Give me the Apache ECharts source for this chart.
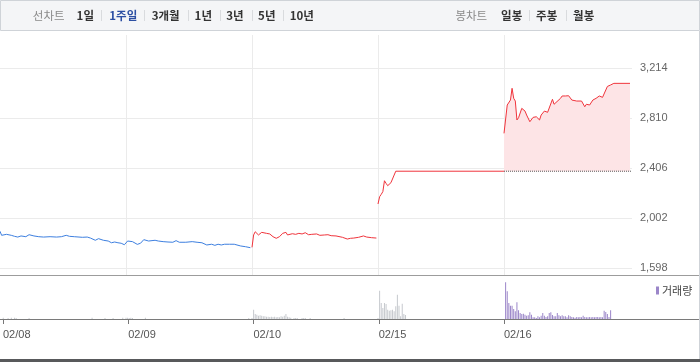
<!DOCTYPE html>
<html><head><meta charset="utf-8">
<script src="https://cdn.jsdelivr.net/npm/echarts@6.0.0/dist/echarts.min.js"></script>
<style>html,body{margin:0;padding:0;background:#fff}#c{width:700px;height:362px}</style>
</head><body><div id="c"></div>
<script>
// ---- data ----
const dates = ['02/08', '02/09', '02/10', '02/15', '02/16'];
const priceTicks = [1598, 2002, 2406, 2810, 3214];
const sessionMinutes = 390;   // 09:00 - 15:30
const barMinutes = 5;         // 5-minute volume bars

// price: [minutes after 09:00, price]
const price0208 = [[0,1895],[5,1862],[10,1875],[20,1870],[35,1862],[45,1854],[55,1848],[65,1857],[70,1843],[80,1851],[90,1867],[105,1857],[120,1851],[135,1848],[155,1851],[175,1848],[190,1851],[205,1862],[215,1854],[230,1851],[255,1846],[270,1848],[280,1840],[295,1822],[305,1835],[320,1822],[335,1816],[345,1802],[355,1808],[365,1802],[375,1798],[385,1786]];
const price0209 = [[5,1816],[20,1811],[35,1789],[45,1798],[55,1827],[70,1816],[75,1806],[90,1822],[100,1816],[115,1811],[130,1808],[145,1806],[155,1819],[165,1806],[185,1806],[205,1811],[220,1806],[235,1802],[250,1784],[265,1790],[275,1781],[285,1790],[295,1784],[305,1790],[320,1790],[335,1790],[355,1776],[370,1770],[385,1762]];
const price0210 = [[0,1765],[5,1865],[10,1891],[20,1865],[30,1886],[35,1873],[45,1878],[55,1873],[65,1851],[75,1838],[85,1851],[95,1878],[105,1886],[110,1865],[125,1875],[135,1870],[145,1878],[155,1873],[165,1883],[175,1867],[185,1870],[200,1873],[210,1862],[225,1865],[235,1867],[245,1859],[260,1857],[280,1846],[295,1832],[305,1838],[315,1840],[330,1846],[345,1857],[355,1848],[370,1843],[385,1840]];
const price0215 = [[0,2115],[5,2174],[10,2193],[15,2215],[20,2303],[25,2282],[30,2263],[40,2287],[45,2290],[50,2349],[55,2380],[390,2380]];
const price0216 = [[0,2686],[10,2915],[20,2955],[25,3050],[30,2969],[35,2947],[40,2794],[45,2812],[55,2888],[65,2866],[70,2834],[80,2780],[90,2815],[100,2820],[110,2794],[115,2834],[125,2866],[135,2856],[140,2863],[150,2961],[155,2921],[160,2929],[175,2969],[180,2988],[190,2988],[200,2990],[210,2955],[225,2947],[240,2947],[250,2901],[255,2921],[265,2915],[275,2955],[285,2969],[295,2988],[305,2977],[310,2983],[320,3065],[330,3077],[340,3090],[390,3090]];

// volume (만주): sparse days as [minutes, volume]; dense days as consecutive 5-min bars
const vol0208 = [[10,1.3],[25,1],[35,1.3],[45,1.3],[50,1],[90,1],[285,1.3],[325,1],[350,1],[380,1.3]];
const vol0209 = [[0,1.3],[5,1.3],[10,1],[15,1.3],[20,1],[60,1.3],[380,1]];
const vol0210 = [[0,1],[5,9.3],[10,5],[15,4.3],[20,3.3],[25,3.7],[30,3.3],[35,2.7],[40,2.7],[45,2.3],[50,2.3],[55,2],[60,2.3],[65,2],[70,2.3],[75,1.7],[80,2],[85,1.7],[90,2.7],[95,2.3],[100,3.3],[105,5],[110,2.3],[115,1.7],[120,1.3],[130,1],[135,1],[140,1],[155,1],[160,1],[165,1],[180,1],[285,1]];
const vol0215Start = 0;
const vol0215 = [1,28.3,16,11,16,15,9.3,8.3,8.7,9.3,7.7,12.7,24.3,13.3,2.7,15.3,5,4];
const vol0216Start = 5;
const vol0216 = [36.7,27.7,16,13.3,13.3,10,7.7,16.7,8.7,6,5,5.3,4.3,3.3,3.7,6.7,4.3,1.7,1.7,1,2.7,1.7,3.3,6,3.3,2,2.7,6,6.7,4,2.7,2.7,6,3.7,2.7,3.7,2.7,2.7,1.7,3.7,2.7,2,1.7,1.3,2,1.7,2,1.7,3.3,2,1.7,1.7,2,1.7,2,1.7,2,2,1.7,2,1.7,8.3,7,5,2,8.7];

// ---- build ----
const xMax = 5 + 2 / 126;
const toX = (day, m) => day + m / sessionMinutes;
const pts = (day, arr) => arr.map(p => [toX(day, p[0]), p[1]]);
const dense = (start, arr) => arr.map((v, i) => [start + i * barMinutes, v]);
const prevClose = price0215[price0215.length - 1][1];

const GRAY = '#c6c9ce', PURPLE = '#9b86c9', BLUE = '#3d7fdf', RED = '#f0343c';
const volDays = [vol0208, vol0209, vol0210, dense(vol0215Start, vol0215), dense(vol0216Start, vol0216)];
const volData = [];
volDays.forEach((arr, d) => arr.forEach(p => volData.push({
  value: [toX(d, p[0]), p[1]],
  itemStyle: { color: d === 4 ? PURPLE : GRAY }
})));

const NUMF = "'Liberation Sans', Arial, sans-serif";
const KRF = "'Noto Sans CJK KR', sans-serif";

// toolbar
const toolbar = [{ type: 'rect', shape: { x: 0.5, y: 0.5, width: 699, height: 30 }, style: { fill: '#f4f5f7', stroke: '#cfd3d8', lineWidth: 1 }, silent: true }];
const tbItems = [
  ['선차트', 48.7, '#8a8a8a', 'normal'], ['1일', 85.3, '#333', 'bold'], ['1주일', 123.3, '#2c4fa3', 'bold'],
  ['3개월', 165.7, '#333', 'bold'], ['1년', 203.3, '#333', 'bold'], ['3년', 235, '#333', 'bold'],
  ['5년', 266.8, '#333', 'bold'], ['10년', 301.7, '#333', 'bold'],
  ['봉차트', 471.3, '#8a8a8a', 'normal'], ['일봉', 511.7, '#333', 'bold'], ['주봉', 546.7, '#333', 'bold'], ['월봉', 583.7, '#333', 'bold']
];
tbItems.forEach(t => toolbar.push({
  type: 'text', x: t[1], y: 15.5, silent: true,
  style: { text: t[0], fill: t[2], font: t[3] + ' 11.5px ' + KRF, align: 'center', verticalAlign: 'middle', textAlign: 'center', textVerticalAlign: 'middle' }
}));
[101, 144.3, 187.7, 220, 251.7, 283.3, 529.3, 565.7].forEach(x => toolbar.push({
  type: 'line', silent: true, shape: { x1: Math.round(x) + 0.5, y1: 10, x2: Math.round(x) + 0.5, y2: 21 }, style: { stroke: '#d9dbde', lineWidth: 1 }
}));

const graphics = toolbar.concat([
  { type: 'line', silent: true, z: 100, shape: { x1: 0, y1: 275.5, x2: 700, y2: 275.5 }, style: { stroke: '#9c9c9c', lineWidth: 1 } },
  { type: 'line', silent: true, z: 100, shape: { x1: 0, y1: 319.5, x2: 700, y2: 319.5 }, style: { stroke: '#7a7a7a', lineWidth: 1 } },
  { type: 'line', silent: true, z: 100, shape: { x1: 699.5, y1: 31, x2: 699.5, y2: 360 }, style: { stroke: '#cfd3d8', lineWidth: 1 } },
  { type: 'rect', silent: true, z: 100, shape: { x: 0, y: 359, width: 700, height: 3 }, style: { fill: '#58595b' } }
]);

const lineBase = { type: 'line', xAxisIndex: 0, yAxisIndex: 0, symbol: 'none', silent: true, smooth: false };

const option = {
  animation: false,
  backgroundColor: '#fff',
  grid: [
    { left: 0, top: 68, width: 632, height: 200 },
    { left: 0, top: 276, width: 632, height: 43 },
    { left: 126, top: 35, width: 378, height: 240 },
    { left: 0, top: 276, width: 504, height: 43 }
  ],
  xAxis: [
    { gridIndex: 0, type: 'value', min: 0, max: xMax, show: false },
    { gridIndex: 1, type: 'value', min: 0, max: xMax, show: false },
    { gridIndex: 2, type: 'value', min: 1, max: 4, interval: 1, axisLine: { show: false }, axisTick: { show: false }, axisLabel: { show: false }, splitLine: { show: true, lineStyle: { color: '#ebebeb', width: 1 } } },
    { gridIndex: 3, type: 'value', min: 0, max: dates.length - 1, interval: 1, position: 'bottom',
      axisLine: { show: false }, splitLine: { show: false },
      axisTick: { show: true, length: 5, lineStyle: { color: '#777', width: 1 } },
      axisLabel: { show: true, margin: 10, align: 'left', color: '#555', fontSize: 11, fontFamily: NUMF, formatter: v => dates[Math.round(v)] || '' } }
  ],
  yAxis: [
    { gridIndex: 0, type: 'value', position: 'right', min: priceTicks[0], max: priceTicks[priceTicks.length - 1], interval: priceTicks[1] - priceTicks[0],
      axisLine: { show: false }, axisTick: { show: false },
      splitLine: { show: true, lineStyle: { color: '#ebebeb', width: 1 } },
      axisLabel: { margin: 8, color: '#666', fontSize: 11, fontFamily: NUMF, formatter: v => v.toLocaleString('en-US') } },
    { gridIndex: 1, type: 'value', min: 0, max: 43, show: false },
    { gridIndex: 2, type: 'value', min: 0, max: 1, show: false },
    { gridIndex: 3, type: 'value', min: 0, max: 1, show: false }
  ],
  legend: {
    left: 651, top: 280, itemWidth: 3, itemHeight: 8, selectedMode: false, icon: 'rect',
    textStyle: { fontSize: 11, color: '#444', fontFamily: KRF, padding: [0, 0, 0, -2] },
    data: [{ name: '거래량', icon: 'rect', itemStyle: { color: PURPLE } }]
  },
  graphic: { elements: graphics },
  series: [
    Object.assign({}, lineBase, { name: 'p1', data: pts(0, price0208).concat(pts(1, price0209)), lineStyle: { color: BLUE, width: 1 }, itemStyle: { color: BLUE } }),
    Object.assign({}, lineBase, { name: 'p2', data: pts(2, price0210), lineStyle: { color: RED, width: 1 }, itemStyle: { color: RED } }),
    Object.assign({}, lineBase, { name: 'p3', data: pts(3, price0215), lineStyle: { color: RED, width: 1 }, itemStyle: { color: RED } }),
    Object.assign({}, lineBase, { name: 'p4', data: pts(4, price0216), lineStyle: { color: RED, width: 1 }, itemStyle: { color: RED }, z: 3,
      areaStyle: { color: '#fde4e6', opacity: 1, origin: prevClose } }),
    Object.assign({}, lineBase, { name: 'prev', data: [[4, prevClose], [xMax, prevClose]], z: 4, lineStyle: { color: '#555', width: 1, type: 'dotted' }, itemStyle: { color: '#555' } }),
    { name: '거래량', type: 'bar', xAxisIndex: 1, yAxisIndex: 1, barWidth: 1, silent: true, data: volData, itemStyle: { color: PURPLE } }
  ]
};
const chart = echarts.init(document.getElementById('c'), null, { renderer: 'canvas', width: 700, height: 362 });
chart.setOption(option);
</script>
</body></html>
